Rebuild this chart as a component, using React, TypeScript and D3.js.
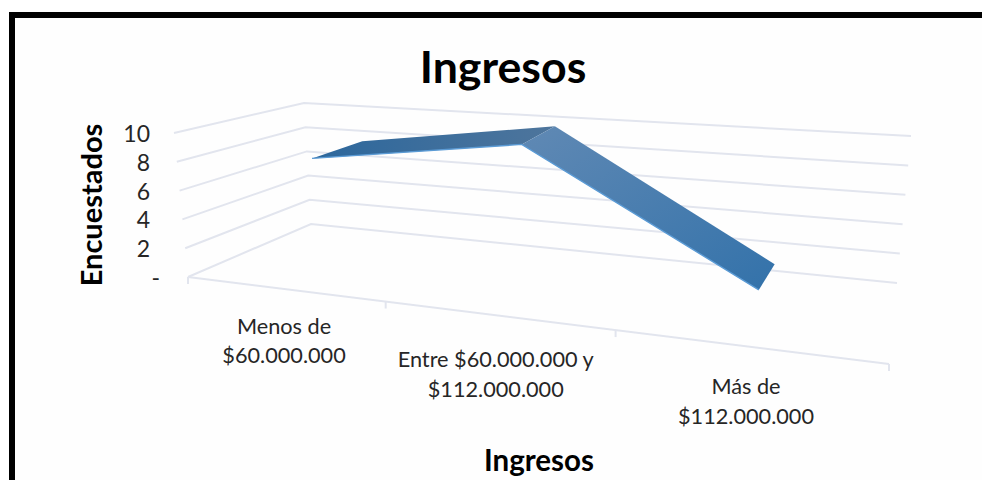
import React from "react";
import * as d3 from "d3";

const categories = [["Menos de", "$60.000.000"], ["Entre $60.000.000 y", "$112.000.000"], ["Más de", "$112.000.000"]];
const values = [7.95, 10, 1.6];
const yTicks = [0, 2, 4, 6, 8, 10];
const yTickLabels = ["-", "2", "4", "6", "8", "10"];
const title = "Ingresos";
const xTitle = "Ingresos";
const yTitle = "Encuestados";

// Corners of the 3D box, as linear scales over the value axis
const vd = [0, 10];
const FLx = d3.scaleLinear().domain(vd).range([188, 174]);
const FLy = d3.scaleLinear().domain(vd).range([277, 133]);
const BLx = d3.scaleLinear().domain(vd).range([311, 304]);
const BLy = d3.scaleLinear().domain(vd).range([224, 103]);
const FRx = d3.scaleLinear().domain(vd).range([889, 909]);
const FRy = d3.scaleLinear().domain(vd).range([364, 189]);
const BRx = d3.scaleLinear().domain(vd).range([897, 911]);
const BRy = d3.scaleLinear().domain(vd).range([283, 136]);

const lerp = (a: number, b: number, t: number) => a + (b - a) * t;
function project(u: number, w: number, v: number): [number, number] {
  const fx = lerp(FLx(v), FRx(v), u), fy = lerp(FLy(v), FRy(v), u);
  const bx = lerp(BLx(v), BRx(v), u), by = lerp(BLy(v), BRy(v), u);
  return [lerp(fx, bx, w), lerp(fy, by, w)];
}

// Perspective spacing of the categories along the front and back of the floor
const tickU = d3.scaleLinear().domain([0, 1, 2, 3]).range([0, 0.282, 0.61, 1]);
const frontU = d3.scaleLinear().domain([0, 1, 2]).range([0.135, 0.44, 0.793]);
const backU = d3.scaleLinear().domain([0, 1, 2]).range([0.135, 0.44, 0.8]);
const labelU = d3.scaleLinear().domain([0, 1, 2]).range([0.137, 0.439, 0.796]);
const labelDrop = d3.scaleLinear().domain([0, 1, 2]).range([45, 52, 48]);
// Depth of the ribbon's two edges at each category
const depthFront = d3.scaleLinear().domain([0, 1, 2]).range([0.33, 0.33, 0.41]);
const depthBack = d3.scaleLinear().domain([0, 1, 2]).range([0.78, 0.78, 0.78]);

const front = values.map((v, i) => project(frontU(i), depthFront(i), v));
const back = values.map((v, i) => project(backU(i), depthBack(i), v));
const line = d3.line();
const quad = (i: number) => line([front[i], back[i], back[i + 1], front[i + 1]]) + "Z";

const font = "Lato, Carlito, sans-serif";
const grid = "#e2e5ee";

export default function App() {
  return (
    <svg width={982} height={480} style={{ position: "absolute", left: 0, top: 0 }} fontFamily={font}>
      <defs>
        <linearGradient id="s1" x1="0" x2="1" y1="0" y2="0">
          <stop offset="0" stopColor="#2c679c" />
          <stop offset="1" stopColor="#4e759c" />
        </linearGradient>
        <linearGradient id="s2" x1="0" x2="1" y1="0" y2="1">
          <stop offset="0" stopColor="#6089b4" />
          <stop offset="1" stopColor="#3372aa" />
        </linearGradient>
      </defs>
      <rect x={0} y={0} width={982} height={480} fill="#fff" />
      <rect x={12} y={15} width={980} height={480} fill="#fefefe" stroke="#000" strokeWidth={6} />
      {yTicks.map(v => (
        <path key={v} d={line([project(0, 0, v), project(0, 1, v), project(1, 1, v)]) ?? ""} fill="none" stroke={grid} strokeWidth={2} />
      ))}
      <path d={line([project(0, 0, 0), project(1, 0, 0)]) ?? ""} fill="none" stroke={grid} strokeWidth={2} />
      {[0, 1, 2, 3].map(i => {
        const [x, y] = project(tickU(i), 0, 0);
        return <line key={i} x1={x} x2={x} y1={y} y2={y + 7} stroke={grid} strokeWidth={2} />;
      })}
      <path d={quad(0)} fill="url(#s1)" />
      <path d={quad(1)} fill="url(#s2)" />
      <path d={line(front) ?? ""} fill="none" stroke="#5b9bd5" strokeWidth={1.4} />
      {yTicks.map((v, i) => (
        <text key={v} x={v === 0 ? 160 : 150} y={FLy(v) + 9} textAnchor="end" fontSize={23} fill="#262626">
          {yTickLabels[i]}
        </text>
      ))}
      {categories.map((lines, i) => {
        const [x, y] = project(labelU(i), 0, 0);
        return (
          <text key={i} textAnchor="middle" fontSize={21.7} fill="#262626">
            {lines.map((t, k) => (
              <tspan key={k} x={x} y={y + labelDrop(i) + k * 29.5}>{t}</tspan>
            ))}
          </text>
        );
      })}
      <text x={503} y={83} textAnchor="middle" fontSize={44.7} fontWeight={700} fill="#000">{title}</text>
      <text x={539} y={471} textAnchor="middle" fontSize={29.5} fontWeight={700} fill="#000">{xTitle}</text>
      <text transform="translate(102,205) rotate(-90)" textAnchor="middle" fontSize={29} fontWeight={700} fill="#000">{yTitle}</text>
    </svg>
  );
}
